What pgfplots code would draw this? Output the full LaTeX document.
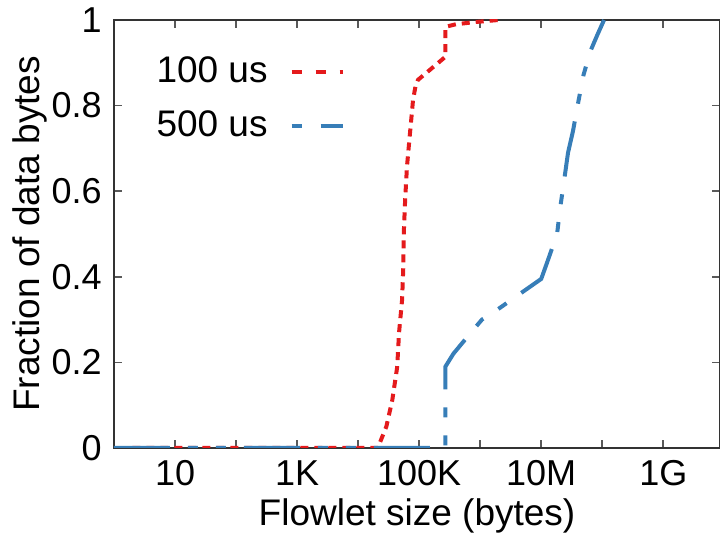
\documentclass[border=0pt]{standalone}
\usepackage{fontspec}
\setmainfont{Liberation Sans}
\usepackage{pgfplots}
\pgfplotsset{compat=1.18}
\definecolor{setred}{HTML}{E41A1C}
\definecolor{setblue}{HTML}{377EB8}
\pgfplotsset{
  redleg/.style={legend image code/.code={%
    \path[draw=none, fill=none] (0pt,0pt) rectangle (1pt,0.1pt);
    \draw[setred, line width=2pt, dash pattern=on 5pt off 7pt] (10pt,0pt) -- (35.5pt,0pt);}},
  blueleg/.style={legend image code/.code={%
    \path[draw=none, fill=none] (0pt,0pt) rectangle (1pt,0.1pt);
    \draw[setblue, line width=2pt, dash pattern=on 5pt off 9.5pt on 30pt off 9pt] (10pt,0pt) -- (35.5pt,0pt);}},
}

\begin{document}
\fontsize{18}{22}\selectfont
\begin{tikzpicture}
\begin{axis}[
  scale only axis,
  width=303pt, height=214pt,
  xmode=log, log basis x=10,
  xmin=1, xmax=8.5e9,
  ymin=0, ymax=1,
  xtick={10,1000,100000,10000000,1000000000},
  xticklabels={10,1K,100K,10M,1G},
  minor xtick={100,10000,1000000,100000000},
  ytick={0,0.2,0.4,0.6,0.8,1},
  yticklabels={0,0.2,0.4,0.6,0.8,1},
  tick align=inside,
  major tick length=4pt, minor tick length=4pt,
  axis line style={black!80, line width=0.9pt},
  every tick/.style={black!65, line width=0.8pt},
  tick label style={font=\fontsize{18}{22}\selectfont},
  label style={font=\fontsize{18.5}{22}\selectfont},
  xlabel={Flowlet size (bytes)},
  ylabel={Fraction of data bytes},
  xlabel style={yshift=6pt},
  ylabel style={yshift=-10pt},
  legend plot pos=right,
  legend cell align=left,
  legend style={draw=none, fill=none, at={(0.053,0.935)}, anchor=north west,
    font=\fontsize{18.5}{22}\selectfont, row sep=7.5pt},
]
\coordinate (bl) at (rel axis cs:0,0);
\coordinate (tr) at (rel axis cs:1,1);

% 100 us flowlet gap
\addplot[setred, line width=2pt, dash pattern=on 4pt off 3pt, redleg]
  coordinates {
  (2,0) (21000,0) (29000,0.05) (36300,0.112) (43650,0.189) (46800,0.269)
  (52500,0.346) (55000,0.423) (56000,0.502) (58900,0.579) (63100,0.657)
  (70800,0.736) (79400,0.813) (87000,0.845) (95500,0.86) (170000,0.89)
  (269000,0.914) (269000,0.984) (400000,0.99) (800000,0.995) (2000000,1.0)
};
\addlegendentry{100 us}

% 500 us flowlet gap
\addplot[setblue, line width=2pt,
  dash pattern=on 28pt off 9pt on 5pt off 9pt on 5pt off 9pt, blueleg]
  coordinates {
  (1,0) (269000,0) (269000,0.19) (363000,0.22) (708000,0.27) (1070000,0.30)
  (1580000,0.315) (3160000,0.345) (6300000,0.375) (10000000,0.395)
  (12600000,0.435) (15800000,0.475) (18200000,0.50) (20400000,0.56)
  (24000000,0.63) (27500000,0.69) (33100000,0.74) (40700000,0.81)
  (49000000,0.87) (63000000,0.925) (83000000,0.965) (107000000,1.0)
};
\addlegendentry{500 us}
\end{axis}
\pgfresetboundingbox
\path ([shift={(-57pt,-42.5pt)}]bl) rectangle ([shift={(0pt,10pt)}]tr);
\end{tikzpicture}
\end{document}
